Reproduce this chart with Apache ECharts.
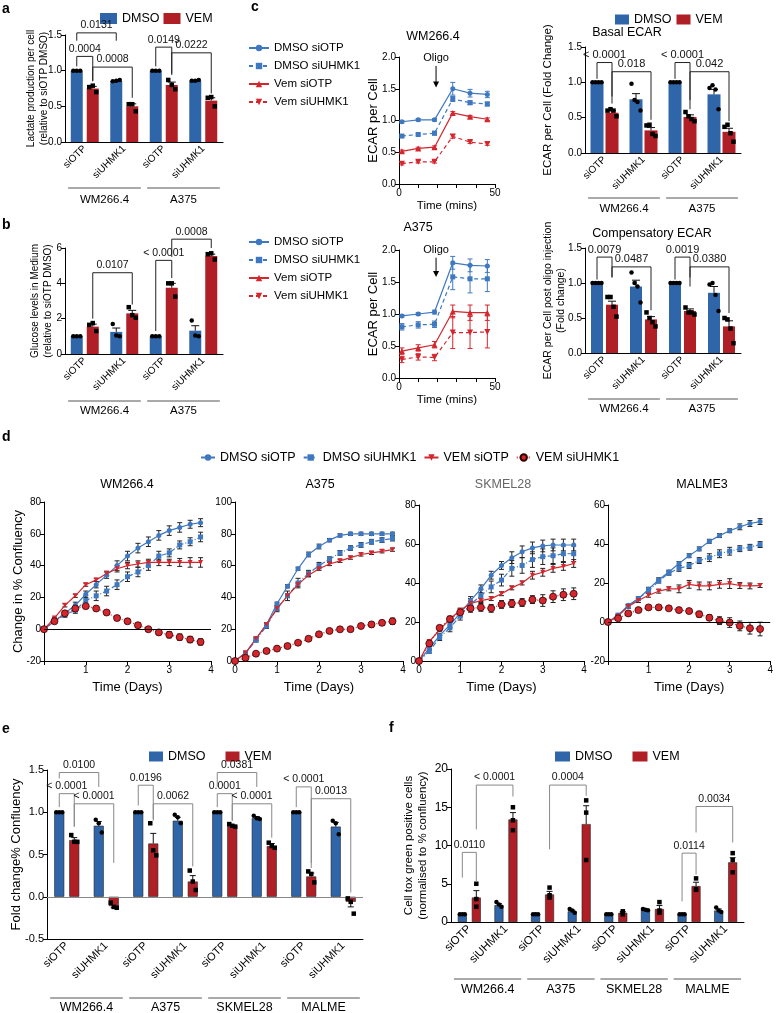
<!DOCTYPE html>
<html><head><meta charset="utf-8">
<script src="https://cdn.jsdelivr.net/npm/echarts@6/dist/echarts.min.js"></script>
<style>html,body{margin:0;padding:0;background:#fff}#c{width:776px;height:1013px}</style>
</head><body><div id="c"></div>
<script>
const FONT = '"Liberation Sans", Arial, Helvetica, sans-serif';
const BLUE = '#2f65a9', RED = '#b11f26';
const LBLUE = '#3e78c0', LRED = '#d3262d';

// ---------- panel a ----------
const aCats = ['siOTP','siUHMK1','siOTP','siUHMK1'];
const aGroups = ['WM266.4','A375'];
const aDmso = [1.0, 0.855, 1.0, 0.86];
const aVem = [0.75, 0.50, 0.80, 0.58];
const aDmsoErr = [0, 0.005, 0, 0.005];
const aVemErr = [0.03, 0.035, 0.04, 0.04];
const aDmsoPts = [[1,1,1],[0.85,0.86,0.87],[1,1,1],[0.86,0.86,0.87]];
const aVemPts = [[0.77,0.79,0.70],[0.53,0.53,0.43],[0.87,0.80,0.74],[0.62,0.63,0.50]];
const aBrackets = [
  [0,-1,1,-1,1.53,1.42,1.42,'0.0131'],
  [0,-1,0,1,1.20,1.06,0.85,'0.0004'],
  [0,1,1,1,1.05,0.86,0.62,'0.0008'],
  [2,-1,2,1,1.33,1.06,0.94,'0.0149'],
  [2,1,3,1,1.25,0.96,0.68,'0.0222']
];

// ---------- panel b ----------
const bCats = ['siOTP','siUHMK1','siOTP','siUHMK1'];
const bGroups = ['WM266.4','A375'];
const bDmso = [1.0, 1.25, 1.0, 1.32];
const bVem = [1.55, 2.3, 3.75, 5.55];
const bDmsoErr = [0, 0.22, 0, 0.28];
const bVemErr = [0.14, 0.17, 0.25, 0.1];
const bDmsoPts = [[1,1,1],[1.7,1.05,1.0],[1,1,1],[1.9,1.05,1.0]];
const bVemPts = [[1.65,1.75,1.3],[2.65,2.2,2.05],[4.0,4.0,3.25],[5.65,5.7,5.35]];
const bBrackets = [
  [0,1,1,1,4.6,2.0,2.8,'0.0107'],
  [2,-1,2,1,5.3,1.3,4.3,'< 0.0001'],
  [2,1,3,1,6.5,5.5,6.0,'0.0008']
];

// ---------- panel c (ECAR time courses) ----------
const cTime = [1.5, 10, 18.5, 28, 37, 46];
const cSeriesNames = ['DMSO siOTP','DMSO siUHMK1','Vem siOTP','Vem siUHMK1'];
const wmEcar = [
  [0.98,1.01,1.01,1.50,1.43,1.41],
  [0.755,0.78,0.80,1.34,1.28,1.26],
  [0.515,0.56,0.58,1.12,1.06,1.02],
  [0.32,0.35,0.35,0.75,0.66,0.63]
];
const wmEcarErr = [
  [0.02,0.02,0.02,0.10,0.06,0.05],
  [0.02,0.02,0.03,0.04,0.03,0.03],
  [0.02,0.02,0.02,0.02,0.02,0.02],
  [0.02,0.02,0.02,0.03,0.02,0.02]
];
const a375Ecar = [
  [0.97,1.00,1.03,1.80,1.76,1.75],
  [0.80,0.83,0.84,1.58,1.55,1.55],
  [0.42,0.47,0.52,1.04,1.02,1.02],
  [0.29,0.33,0.32,0.71,0.71,0.72]
];
const a375EcarErr = [
  [0.02,0.02,0.03,0.10,0.10,0.10],
  [0.05,0.05,0.05,0.20,0.22,0.20],
  [0.05,0.05,0.05,0.10,0.12,0.12],
  [0.05,0.05,0.05,0.25,0.25,0.25]
];
const wmOligo = [19.3, 1.98, 1.86, 1.52];
const a375Oligo = [19.3, 2.0, 1.88, 1.58];

// ---------- panel c (Basal / Compensatory ECAR) ----------
const cBarCats = ['siOTP','siUHMK1','siOTP','siUHMK1'];
const cGroups = ['WM266.4','A375'];
const basDmso = [1.0, 0.76, 1.0, 0.83];
const basVem = [0.57, 0.32, 0.51, 0.30];
const basDmsoErr = [0, 0.08, 0, 0.07];
const basVemErr = [0.03, 0.04, 0.03, 0.05];
const basDmsoPts = [[1,1,1,1],[0.98,0.75,0.72,0.60],[1,1,1,1],[0.92,0.96,0.90,0.62]];
const basVemPts = [[0.60,0.62,0.60,0.52],[0.39,0.40,0.27,0.24],[0.58,0.52,0.48,0.45],[0.37,0.40,0.28,0.16]];
const basBrackets = [
  [0,-1,0,1,1.28,1.05,0.80,'< 0.0001'],
  [0,1,1,1,1.15,0.70,0.47,'0.018'],
  [2,-1,2,1,1.28,1.05,0.75,'< 0.0001'],
  [2,1,3,1,1.15,0.62,0.45,'0.042']
];
const compDmso = [1.0, 0.95, 1.0, 0.86];
const compVem = [0.69, 0.48, 0.60, 0.38];
const compDmsoErr = [0, 0.09, 0, 0.09];
const compVemErr = [0.05, 0.04, 0.03, 0.08];
const compDmsoPts = [[1,1,1,1],[1.15,1.0,0.95,0.72],[1,1,1,1],[0.98,1.0,0.83,0.60]];
const compVemPts = [[0.80,0.80,0.66,0.52],[0.58,0.50,0.44,0.38],[0.65,0.58,0.58,0.55],[0.50,0.48,0.35,0.14]];
const compBrackets = [
  [0,-1,0,1,1.37,1.05,1.08,'0.0079'],
  [0,1,1,1,1.23,1.08,0.61,'0.0487'],
  [2,-1,2,1,1.37,1.05,1.08,'0.0019'],
  [2,1,3,1,1.23,0.95,0.57,'0.0380']
];

// ---------- panel d (confluency) ----------
const days = [0,0.25,0.5,0.75,1,1.25,1.5,1.75,2,2.25,2.5,2.75,3,3.25,3.5,3.75];
const dNames = ['DMSO siOTP','DMSO siUHMK1','VEM siOTP','VEM siUHMK1'];
const dWM = [
  [0,5,10,15,22,28,34,40,46,51,55,59,62,64,66,67],
  [0,5,9,12,18,21,24,28,33,36,40,46,48,53,55,58],
  [0,7,15,21,28,31,35,38,40,41,42,42,42,42,42,42],
  [0,5,10,13,14.5,13,10.5,7,5,2.5,0,-2,-3.5,-5,-6.5,-8]
];
const dWMErr = [
  [0,1,1,2,2,2,2,3,3,3,3,3,3,3,2.5,2.5],
  [0,1,1.5,2,3,3,3,3,3,3,3,3,2.5,2.5,2.5,3],
  [0,0.5,1,1,1,1,1.5,2,2,2,2,2,2,2.5,3,3],
  [0,0.5,1,1,1,1,1,1.5,1.5,1.5,1.5,1.5,2,2,2,2]
];
const dA375 = [
  [0,5,14,23,36,47,58,67,72,76,79,80,80,80,80,80],
  [0,5,13,22,33,41,49,55,60,64,68,71,73,75,76,77],
  [0,5,14,23,33,41,48,54,58,61,63,65,67,68,69,70],
  [0,2,4.6,6.3,7.8,9.4,11.5,14,16.8,18.9,19.9,20,22,23,24,25]
];
const dA375Err = [
  [0,1,1,1,1,1,1,1.5,1.5,1,1,1,1,1,1,1],
  [0,1,1,1.5,2,3,3,2,2,1.5,1.5,1.5,1.5,1.5,1.5,1.5],
  [0,1,1,1,1,1,1,1,1,1,1,1,1,1,1,1],
  [0,1,1,1,1,1,1,1,1,1,1,1,1,1.5,1.5,2]
];
const dSK = [
  [0,6.5,13,18.5,24.5,31,37,44,49,53,56,58,59,59.5,59.5,59.5],
  [0,5,12,17,23,29,33.5,38,41.5,47.5,49,52,53.5,54,55,55],
  [0,10,16,21.5,26,29.5,31,32,34.5,37.5,40,44,45.5,47.5,48.5,50],
  [0,9,17,21.5,25,27,27.5,27,29,29.5,30,31.5,31,33,34,34.5]
];
const dSKErr = [
  [0,1,1,1.5,1.5,2,2,2,2,3,3,3,3,3,3,3],
  [0,1,1.5,2,2,3,3,3,3,4,4,4,4,4,4,4],
  [0,1,1,1,1,1,1,1,1,1,1,2,2,2,2,2],
  [0,1,1,1.5,2,2,2,2,2,2,2,2,3,3,3,3]
];
const dMA = [
  [0,3.5,8.6,12,16.8,21.7,25.6,30,34,37.5,41.4,44.3,46.8,48.8,50.5,51.5],
  [0,3.5,8,12,16,21,25,27.5,29,31.5,33,35,36.3,37.6,38.3,39.7],
  [0,3,8,11,13.7,15.8,17,17,19.3,18.5,18.5,19.3,19.7,18.7,18.5,18.7],
  [0,1.9,4.4,6.1,7.5,7.5,7,6.1,5.6,4,2.2,0.7,-0.3,-2,-3.2,-3.6]
];
const dMAErr = [
  [0,0.5,0.5,1,1,1,1,1,1,1,1,1,1,1.5,1.5,1.5],
  [0,0.5,1,1,1,1,1,1.5,1.5,1.5,2,2,2,1.5,1.5,1.5],
  [0,0.5,1,1,1,1,1,2,2,2,2,2,2.5,1.5,1.5,1],
  [0,1,1,1,1,1,1,1,1,1.5,1.5,2,2.5,2.5,3,3.5]
];

// ---------- panel e ----------
const efCats = ['siOTP','siUHMK1','siOTP','siUHMK1','siOTP','siUHMK1','siOTP','siUHMK1'];
const efGroups = ['WM266.4','A375','SKMEL28','MALME'];
const eDmso = [1.0,0.84,1.0,0.90,1.0,0.93,1.0,0.83];
const eVem = [0.67,-0.11,0.63,0.18,0.84,0.60,0.24,-0.06];
const eDmsoErr = [0,0.05,0,0.04,0,0.02,0,0.05];
const eVemErr = [0.03,0.02,0.12,0.07,0.01,0.03,0.04,0.06];
const eDmsoPts = [[1,1,1],[0.91,0.87,0.76],[1,1,1],[0.97,0.94,0.87],[1,1,1],[0.96,0.93,0.92],[1,1,1],[0.90,0.87,0.74]];
const eVemPts = [[0.73,0.65,0.65],[-0.07,-0.12,-0.13],[0.87,0.55,0.49],[0.31,0.18,0.08],[0.86,0.84,0.83],[0.64,0.60,0.58],[0.30,0.27,0.17],[-0.02,-0.06,-0.20]];
const eBrackets = [
  [0,-1,1,-1,1.47,1.40,1.30,'0.0100'],
  [0,-1,0,1,1.22,1.06,0.83,'< 0.0001'],
  [0,1,1,1,1.10,0.83,0.40,'< 0.0001'],
  [2,-1,2,1,1.32,1.08,0.90,'0.0196'],
  [2,1,3,1,1.10,0.92,0.36,'0.0062'],
  [4,-1,5,-1,1.47,1.30,1.30,'0.0381'],
  [4,-1,4,1,1.22,1.06,0.90,'0.0001'],
  [4,1,5,1,1.10,0.90,0.70,'< 0.0001'],
  [6,-1,6,1,1.30,1.06,0.34,'< 0.0001'],
  [6,1,7,1,1.16,0.40,0.05,'0.0013']
];

// ---------- panel f ----------
const fDmso = [1.0,2.2,1.0,1.4,1.0,1.6,1.0,1.5];
const fVem = [3.2,13.4,3.6,12.8,1.2,1.7,4.7,7.8];
const fDmsoErr = [0.05,0.2,0.05,0.15,0.05,0.05,0.05,0.2];
const fVemErr = [0.9,0.9,0.4,2.4,0.15,0.45,0.5,0.6];
const fDmsoPts = [[1,1,1],[2.6,2.3,2.0],[1,1,1],[1.7,1.5,1.2],[1,1,1],[1.7,1.6,1.55],[1,1,1],[1.9,1.5,1.3]];
const fVemPts = [[5.0,3.0,2.0],[15.0,13.3,12.0],[4.5,3.5,3.2],[15.9,14.3,8.1],[1.4,1.2,1.0],[2.6,1.5,1.2],[5.7,4.3,4.2],[9.0,8.1,6.5]];
const fBrackets = [
  [0,-1,0,1,9.1,5.8,5.3,'0.0110'],
  [0,1,1,1,17.9,12.1,16.4,'< 0.0001'],
  [2,1,3,1,17.9,9.5,16.5,'0.0004'],
  [6,-1,6,1,9.0,2.7,6.2,'0.0114'],
  [6,1,7,1,15.1,11.7,10.4,'0.0034']
];

// =================== builders ===================
const grids = [], xAxes = [], yAxes = [], series = [];
function offs(n, j){ const a=[]; for(let k=0;k<n;k++) a.push((k-(n-1)/2)*j); return a; }

function barPanel(p){
  const gi = grids.length;
  grids.push({left:p.g[0], top:p.g[1], width:p.g[2], height:p.g[3]});
  xAxes.push({gridIndex:gi, type:'category', data:p.cats,
    axisLine:{onZero:false, lineStyle:{color:'#000', width:1}}, axisTick:{show:false},
    axisLabel:{rotate:45, interval:0, margin:p.xm||5, fontSize:p.xfs||10, color:'#000', fontFamily:FONT}});
  yAxes.push({gridIndex:gi, type:'value', min:p.y[0], max:p.y[1], interval:p.y[2],
    axisLine:{show:true, onZero:false, lineStyle:{color:'#000', width:1}},
    axisTick:{show:true, length:4, lineStyle:{color:'#000'}},
    axisLabel:{fontSize:p.yfs||10, color:'#000', fontFamily:FONT, margin:3, formatter:p.yf},
    splitLine:{show:false},
    name:p.yname, nameLocation:'middle', nameRotate:90, nameGap:p.ng, nameMoveOverlap:false,
    nameTextStyle:{fontSize:p.nfs||10, lineHeight:Math.round((p.nfs||10)*1.25), color:'#000', fontFamily:FONT}});
  const gapPct = (p.gap/p.w*100).toFixed(1)+'%';
  const bord = p.border ? {borderColor:'#222', borderWidth:0.6} : {borderWidth:0};
  const dm = {type:'bar', name:'DMSO', xAxisIndex:gi, yAxisIndex:gi, barWidth:p.w, barGap:gapPct,
    data:p.dmso, itemStyle:Object.assign({color:BLUE}, bord), z:2, silent:true};
  if (p.zero) dm.markLine = {silent:true, symbol:'none', label:{show:false},
    lineStyle:{color:p.zero, width:1, type:'solid'}, data:[{yAxis:0}]};
  series.push(dm);
  series.push({type:'bar', name:'VEM', xAxisIndex:gi, yAxisIndex:gi, barWidth:p.w, barGap:gapPct,
    data:p.vem, itemStyle:Object.assign({color:RED}, bord), z:2, silent:true});
  const d = (p.w + p.gap)/2;
  series.push({type:'custom', xAxisIndex:gi, yAxisIndex:gi, silent:true, z:6,
    data:p.cats.map((c,i)=>[i,0]),
    renderItem:function(params, api){
      const i = params.dataIndex;
      const cx = api.coord([i,0])[0];
      const kids = [];
      [[p.dmso,p.dmsoErr,p.dmsoPts,-1,'c',p.jd],[p.vem,p.vemErr,p.vemPts,1,'s',p.jv]].forEach(function(s){
        const x = cx + s[3]*d, m = s[0][i], e = s[1][i];
        if (e > 0){
          const y0 = api.coord([i,m])[1];
          const y1 = api.coord([i, m>=0 ? m+e : m-e])[1];
          kids.push({type:'line', shape:{x1:x,y1:y0,x2:x,y2:y1}, style:{stroke:'#111',lineWidth:1}});
          kids.push({type:'line', shape:{x1:x-p.cap,y1:y1,x2:x+p.cap,y2:y1}, style:{stroke:'#111',lineWidth:1}});
        }
        const pts = s[2][i], o = offs(pts.length, s[5]);
        pts.forEach(function(v,k){
          const y = api.coord([i,v])[1];
          if (s[4]==='c') kids.push({type:'circle', shape:{cx:x+o[k], cy:y, r:p.ps/2}, style:{fill:'#000'}});
          else kids.push({type:'rect', shape:{x:x+o[k]-p.ps/2, y:y-p.ps/2, width:p.ps, height:p.ps}, style:{fill:'#000'}});
        });
      });
      return {type:'group', children:kids};
    }});
  series.push({type:'custom', xAxisIndex:gi, yAxisIndex:gi, silent:true, z:7,
    data:p.br.map(b=>[b[0], b[4]]),
    renderItem:function(params, api){
      const b = p.br[params.dataIndex];
      const xa = api.coord([b[0],0])[0] + b[1]*d;
      const xb = api.coord([b[2],0])[0] + b[3]*d;
      const yt = api.coord([0,b[4]])[1], ya = api.coord([0,b[5]])[1], yb = api.coord([0,b[6]])[1];
      return {type:'group', children:[
        {type:'polyline', shape:{points:[[xa,ya],[xa,yt],[xb,yt],[xb,yb]]}, style:{stroke:p.bc, fill:null, lineWidth:1}},
        {type:'text', style:{text:b[7], x:(xa+xb)/2, y:yt-2, align:'center', verticalAlign:'bottom', fontSize:p.bfs, fontFamily:FONT, fill:'#111'}}
      ]};
    }});
  series.push({type:'custom', xAxisIndex:gi, yAxisIndex:gi, silent:true, z:7,
    data:p.groups.map((g,k)=>[k*2, p.y[0]]),
    renderItem:function(params, api){
      const k = params.dataIndex;
      const band = api.size([1,0])[0];
      const x0 = api.coord([k*2, p.y[0]])[0] - band*0.42;
      const x1 = api.coord([k*2+1, p.y[0]])[0] + band*0.42;
      const yb = api.coord([k*2, p.y[0]])[1];
      return {type:'group', children:[
        {type:'line', shape:{x1:x0,y1:yb+p.gl,x2:x1,y2:yb+p.gl}, style:{stroke:'#555',lineWidth:1}},
        {type:'text', style:{text:p.groups[k], x:(x0+x1)/2, y:yb+p.gt, align:'center', verticalAlign:'middle', fontSize:p.gfs||11, fontFamily:FONT, fill:'#000'}}
      ]};
    }});
}

function errRender(color, cap){
  return function(params, api){
    const x = api.value(0), y = api.value(1), e = api.value(2);
    if (!e) return null;
    const p1 = api.coord([x, y-e]), p2 = api.coord([x, y+e]);
    const st = {stroke:color, lineWidth:1};
    return {type:'group', children:[
      {type:'line', shape:{x1:p1[0],y1:p1[1],x2:p2[0],y2:p2[1]}, style:st},
      {type:'line', shape:{x1:p1[0]-cap,y1:p1[1],x2:p1[0]+cap,y2:p1[1]}, style:st},
      {type:'line', shape:{x1:p2[0]-cap,y1:p2[1],x2:p2[0]+cap,y2:p2[1]}, style:st}
    ]};
  };
}

function linePanel(p){
  const gi = grids.length;
  grids.push({left:p.g[0], top:p.g[1], width:p.g[2], height:p.g[3]});
  xAxes.push({gridIndex:gi, type:'value', min:p.x[0], max:p.x[1], interval:p.x[2],
    axisLine:{onZero:false, lineStyle:{color:'#000', width:1}}, axisTick:{length:4, lineStyle:{color:'#000'}},
    axisLabel:{fontSize:p.xfs||10, color:'#000', fontFamily:FONT, margin:4, formatter:p.xf, showMinLabel:true, showMaxLabel:true},
    splitLine:{show:false},
    name:p.xname, nameLocation:'middle', nameGap:p.xng,
    nameTextStyle:{fontSize:p.xnfs||12, color:'#000', fontFamily:FONT}});
  yAxes.push({gridIndex:gi, type:'value', min:p.y[0], max:p.y[1], interval:p.y[2],
    axisLine:{show:true, onZero:false, lineStyle:{color:'#000', width:1}},
    axisTick:{show:true, length:4, lineStyle:{color:'#000'}},
    axisLabel:{fontSize:p.yfs||10, color:'#000', fontFamily:FONT, margin:3, formatter:p.yf},
    splitLine:{show:false},
    name:p.yname||'', nameLocation:'middle', nameRotate:90, nameGap:p.ng||20, nameMoveOverlap:false,
    nameTextStyle:{fontSize:p.nfs||12, color:'#000', fontFamily:FONT}});
  p.lines.forEach(function(L, k){
    series.push({type:'custom', xAxisIndex:gi, yAxisIndex:gi, silent:true, z:2,
      data:p.t.map((t,j)=>[t, L.y[j], L.e[j]]), renderItem:errRender(L.ec, p.cap)});
    const s = {type:'line', name:L.name, xAxisIndex:gi, yAxisIndex:gi,
      data:p.t.map((t,j)=>[t, L.y[j]]), symbol:L.sym, symbolSize:L.ss, showSymbol:true,
      lineStyle:{color:L.c, width:1.2, type:L.dash}, itemStyle:{color:L.fill||L.c, borderColor:L.bc||L.c, borderWidth:L.bw||0},
      z:4, silent:true};
    if (k===0 && p.zero) s.markLine = {silent:true, symbol:'none', label:{show:false},
      lineStyle:{color:'#000', width:1, type:'solid'}, data:[{yAxis:0}]};
    series.push(s);
  });
  if (p.oligo){
    series.push({type:'custom', xAxisIndex:gi, yAxisIndex:gi, silent:true, z:8,
      data:[p.oligo],
      renderItem:function(params, api){
        const o = p.oligo;
        const pt = api.coord([o[0], o[1]]), a0 = api.coord([o[0], o[2]]), a1 = api.coord([o[0], o[3]]);
        return {type:'group', children:[
          {type:'text', style:{text:'Oligo', x:pt[0], y:pt[1], align:'center', verticalAlign:'middle', fontSize:11, fontFamily:FONT, fill:'#000'}},
          {type:'line', shape:{x1:a0[0],y1:a0[1],x2:a1[0],y2:a1[1]-4}, style:{stroke:'#000', lineWidth:1}},
          {type:'polygon', shape:{points:[[a1[0]-3,a1[1]-6],[a1[0]+3,a1[1]-6],[a1[0],a1[1]]]}, style:{fill:'#000'}}
        ]};
      }});
  }
}

const f1 = v => v.toFixed(1);

barPanel({g:[65,35,158,107], cats:aCats, y:[0,1.5,0.5], yf:f1,
  yname:'Lactate production per cell\n(relative to siOTP DMSO)', ng:14, nfs:10,
  dmso:aDmso, vem:aVem, dmsoErr:aDmsoErr, vemErr:aVemErr, dmsoPts:aDmsoPts, vemPts:aVemPts,
  w:12, gap:4, jd:3.5, jv:3.5, ps:4.5, cap:4, br:aBrackets, bc:'#222', bfs:10.5,
  groups:aGroups, gl:46, gt:58, gfs:11.5, xfs:10});
barPanel({g:[65,248,158,106], cats:bCats, y:[0,6,2], yf:v=>v,
  yname:'Glucose levels in Medium\n(relative to siOTP DMSO)', ng:10, nfs:10,
  dmso:bDmso, vem:bVem, dmsoErr:bDmsoErr, vemErr:bVemErr, dmsoPts:bDmsoPts, vemPts:bVemPts,
  w:12, gap:4, jd:3.5, jv:3.5, ps:4.5, cap:4, br:bBrackets, bc:'#222', bfs:10.5,
  groups:bGroups, gl:47, gt:57, gfs:11.5, xfs:10});
barPanel({g:[585,47,156,106], cats:cBarCats, y:[0,1.5,0.5], yf:f1,
  yname:'ECAR per Cell (Fold Change)', ng:30, nfs:11.5,
  dmso:basDmso, vem:basVem, dmsoErr:basDmsoErr, vemErr:basVemErr, dmsoPts:basDmsoPts, vemPts:basVemPts,
  w:13, gap:2, jd:3, jv:3, ps:4.5, cap:4, br:basBrackets, bc:'#222', bfs:11,
  groups:cGroups, gl:45, gt:56, gfs:11.5, xfs:10});
barPanel({g:[585,248,156,105], cats:cBarCats, y:[0,1.5,0.5], yf:f1,
  yname:'ECAR per Cell post oligo injection\n(Fold change)', ng:17, nfs:10.5,
  dmso:compDmso, vem:compVem, dmsoErr:compDmsoErr, vemErr:compVemErr, dmsoPts:compDmsoPts, vemPts:compVemPts,
  w:12, gap:3, jd:3, jv:3, ps:4.5, cap:4, br:compBrackets, bc:'#222', bfs:11,
  groups:cGroups, gl:46, gt:56, gfs:11.5, xfs:10});

function ecarLines(vals, errs){
  const st = [
    {sym:'circle', ss:5, dash:'solid', c:LBLUE},
    {sym:'rect', ss:5, dash:[4,3], c:LBLUE},
    {sym:'triangle', ss:6, dash:'solid', c:LRED},
    {sym:'path://M0,0 L10,0 L5,9 Z', ss:6, dash:[4,3], c:LRED}
  ];
  return vals.map((v,k)=>({name:cSeriesNames[k], y:v, e:errs[k], sym:st[k].sym,
    ss:st[k].ss, dash:st[k].dash, c:st[k].c, ec:st[k].c}));
}
const xfC = v => (v===0||v===50) ? String(v) : '';
linePanel({g:[399,57,96,127], t:cTime, x:[0,50,10], xf:xfC, xname:'Time (mins)', xng:16, xnfs:11.5,
  y:[0,2,0.5], yf:f1, yname:'ECAR per Cell', ng:19, nfs:13, cap:2.5,
  lines:ecarLines(wmEcar, wmEcarErr), oligo:wmOligo});
linePanel({g:[399,250,96,128], t:cTime, x:[0,50,10], xf:xfC, xname:'Time (mins)', xng:16, xnfs:11.5,
  y:[0,2,0.5], yf:f1, yname:'ECAR per Cell', ng:19, nfs:13, cap:2.5,
  lines:ecarLines(a375Ecar, a375EcarErr), oligo:a375Oligo});

function dLines(vals, errs){
  const st = [
    {sym:'circle', ss:5, dash:'solid', c:LBLUE},
    {sym:'rect', ss:5, dash:[5,2,1,2], c:LBLUE},
    {sym:'path://M0,0 L10,0 L5,9 Z', ss:5, dash:'solid', c:LRED},
    {sym:'circle', ss:7, dash:[1,2], c:LRED, bc:'#300', bw:0.8}
  ];
  return vals.map((v,k)=>({name:dNames[k], y:v, e:errs[k], sym:st[k].sym, ss:st[k].ss,
    dash:st[k].dash, c:st[k].c, bc:st[k].bc, bw:st[k].bw, ec:'#222'}));
}
const xfNo0 = v => v===0 ? '' : String(v);
linePanel({g:[44,502,167,159], t:days, x:[0,4,1], xf:xfNo0, xname:'Time (Days)', xng:20, xnfs:13,
  y:[-20,80,20], yf:v=>v, yname:'Change in % Confluency', ng:19, nfs:13, cap:2.5, zero:true,
  lines:dLines(dWM, dWMErr)});
linePanel({g:[235,502,168,159], t:days, x:[0,4,1], xf:v=>String(v), xname:'Time (Days)', xng:20, xnfs:13,
  y:[0,100,20], yf:v=>v, cap:2.5, lines:dLines(dA375, dA375Err)});
linePanel({g:[419,505,165,156], t:days, x:[0,4,1], xf:v=>String(v), xname:'Time (Days)', xng:20, xnfs:13,
  y:[0,80,20], yf:v=>v, cap:2.5, lines:dLines(dSK, dSKErr)});
linePanel({g:[608,505,165,156], t:days, x:[0,4,1], xf:xfNo0, xname:'Time (Days)', xng:20, xnfs:13,
  y:[-20,60,20], yf:v=>v, cap:2.5, zero:true, lines:dLines(dMA, dMAErr)});

barPanel({g:[47,770,316,169], cats:efCats, y:[-0.5,1.5,0.5], yf:f1,
  yname:'Fold change% Confluency', ng:23, nfs:13, yfs:11,
  dmso:eDmso, vem:eVem, dmsoErr:eDmsoErr, vemErr:eVemErr, dmsoPts:eDmsoPts, vemPts:eVemPts,
  w:10, gap:5, jd:3, jv:3, ps:4.5, cap:3, br:eBrackets, bc:'#888', bfs:10.5, border:true, zero:'#888',
  groups:efGroups, gl:59, gt:69, gfs:12.5, xfs:11});
barPanel({g:[451,769,293,153], cats:efCats, y:[0,20,5], yf:v=>v,
  yname:'Cell tox green positive cells\n(normalised to % confluency)', ng:21, nfs:11.5, yfs:12,
  dmso:fDmso, vem:fVem, dmsoErr:fDmsoErr, vemErr:fVemErr, dmsoPts:fDmsoPts, vemPts:fVemPts,
  w:9, gap:5, jd:2.5, jv:0, ps:4.5, cap:3, br:fBrackets, bc:'#888', bfs:10.5, border:true,
  groups:efGroups, gl:57, gt:68, gfs:12.5, xfs:11.5});

function T(text, left, top, size, opts){
  return Object.assign({text:text, left:left, top:top, padding:0,
    textStyle:{fontSize:size, fontWeight:'normal', color:'#000', fontFamily:FONT}}, opts||{});
}
const bold = s => ({textStyle:{fontSize:s, fontWeight:'bold', color:'#000', fontFamily:FONT}});
const titles = [
  T('a',2,2,14,bold(14)), T('b',2,218,14,bold(14)), T('c',251,0,14,bold(14)),
  T('d',2,430,14,bold(14)), T('e',2,722,14,bold(14)), T('f',389,721,14,bold(14)),
  T('WM266.4',433,30,12.5,{textAlign:'center'}), T('A375',418,221,12.5,{textAlign:'center'}),
  T('Basal ECAR',627,26,12.5,{textAlign:'center'}), T('Compensatory ECAR',652,227,12.5,{textAlign:'center'}),
  T('WM266.4',127,478,12.5,{textAlign:'center'}), T('A375',320,478,12.5,{textAlign:'center'}),
  Object.assign(T('SKMEL28',503,478,12.5,{textAlign:'center'}), {textStyle:{fontSize:12.5, fontWeight:'normal', color:'#666', fontFamily:FONT}}),
  T('MALME3',702,478,12.5,{textAlign:'center'})
];

const legTxt = s => ({fontSize:s, color:'#000', fontFamily:FONT});
const legends = [
  {data:['DMSO','VEM'], left:95, top:7, icon:'rect', itemWidth:17, itemHeight:11, itemGap:4, textStyle:legTxt(12.5), selectedMode:false},
  {data:['DMSO','VEM'], left:610, top:8, icon:'rect', itemWidth:14, itemHeight:10, itemGap:5, textStyle:legTxt(12.5), selectedMode:false},
  {data:cSeriesNames, left:243, top:37, orient:'vertical', itemWidth:20, itemHeight:8, itemGap:6, textStyle:legTxt(11.5), selectedMode:false},
  {data:cSeriesNames, left:243, top:231, orient:'vertical', itemWidth:20, itemHeight:8, itemGap:6, textStyle:legTxt(11.5), selectedMode:false},
  {data:dNames, left:195, top:446, itemWidth:14, itemHeight:8, itemGap:7, textStyle:legTxt(12.5), selectedMode:false},
  {data:['DMSO','VEM'], left:144, top:745, icon:'rect', itemWidth:14, itemHeight:10, itemGap:20, textStyle:legTxt(12.5), selectedMode:false},
  {data:['DMSO','VEM'], left:550, top:745, icon:'rect', itemWidth:15, itemHeight:10, itemGap:20, textStyle:legTxt(12.5), selectedMode:false}
];

const chart = echarts.init(document.getElementById('c'), null, {renderer:'canvas', width:776, height:1013});
chart.setOption({animation:false, backgroundColor:'#fff', textStyle:{fontFamily:FONT},
  title:titles, legend:legends, grid:grids, xAxis:xAxes, yAxis:yAxes, series:series});
</script></body></html>
